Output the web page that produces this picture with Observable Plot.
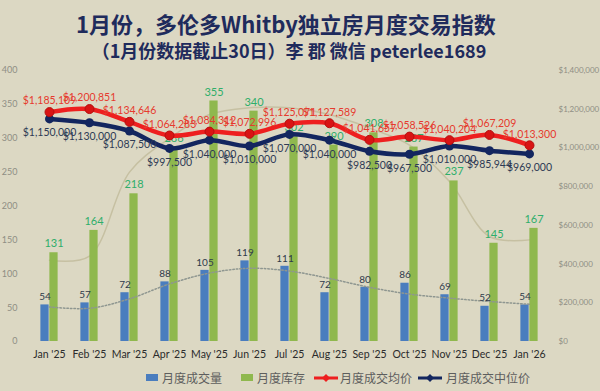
<!DOCTYPE html>
<html>
<head>
<meta charset="utf-8">
<script src="https://cdn.jsdelivr.net/npm/d3@7"></script>
<script src="https://cdn.jsdelivr.net/npm/@observablehq/plot@0.6"></script>
<style>
  html, body { margin: 0; padding: 0; background: #dcd8c3; }
  #wrap { position: relative; width: 600px; height: 391px; background: #dcd8c3; overflow: hidden; }
  .title { position: absolute; left: 0; width: 572px; text-align: center; font-family: "Noto Sans CJK SC", sans-serif; font-weight: bold; color: #1f2b5c; white-space: nowrap; }
  #chart { position: absolute; left: 0; top: 0; }
  .leg { position: absolute; top: 369px; font-family: "Noto Sans CJK SC", sans-serif; font-size: 12px; color: #5e5e5e; display: flex; align-items: center; white-space: nowrap; }
  .sw { display: inline-block; width: 12px; height: 7px; margin-right: 4px; }
</style>
</head>
<body>
<div id="wrap">
  <div class="title" style="top:7px;font-size:22px;">1月份，多伦多Whitby独立房月度交易指数</div>
  <div class="title" style="top:37px;font-size:18px;width:578px;">（1月份数据截止30日）李 郡 微信 peterlee1689</div>
  <div id="chart"></div>
  <div class="leg" style="left:146px;"><span class="sw" style="background:#4a7dbe"></span>月度成交量</div>
  <div class="leg" style="left:241px;"><span class="sw" style="background:#8fb84e"></span>月度库存</div>
  <div class="leg" style="left:314px;"><svg width="24" height="10" style="margin-right:2px"><line x1="0" y1="5" x2="24" y2="5" stroke="#ee1f1f" stroke-width="3"/><path d="M12 1 L16 5 L12 9 L8 5 Z" fill="#ee1f1f"/></svg>月度成交均价</div>
  <div class="leg" style="left:418px;"><svg width="24" height="10" style="margin-right:4px"><line x1="0" y1="5" x2="24" y2="5" stroke="#13265f" stroke-width="3"/><path d="M12 1 L16 5 L12 9 L8 5 Z" fill="#13265f"/></svg>月度成交中位价</div>
</div>
<script>
const months = ["Jan '25","Feb '25","Mar '25","Apr '25","May '25","Jun '25","Jul '25","Aug '25","Sep '25","Oct '25","Nov '25","Dec '25","Jan '26"];
const sales = [54, 57, 72, 88, 105, 119, 111, 72, 80, 86, 69, 52, 54];
const inventory = [131, 164, 218, 286, 355, 340, 302, 290, 308, 287, 237, 145, 167];
const avgPrice = [1185109, 1200851, 1134646, 1064283, 1084312, 1072996, 1125071, 1127589, 1041657, 1058526, 1040204, 1067209, 1013300];
const medianPrice = [1150000, 1130000, 1087500, 997500, 1040000, 1010000, 1070000, 1040000, 982500, 967500, 1010000, 985944, 969000];
// trend lines
const salesTrend = [51, 49, 63, 85, 101, 108, 104, 93, 80, 70, 64, 59, 55];
const inventoryTrend = [120, 126, 250, 300, 335, 345, 345, 335, 315, 290, 236, 155, 150];
const leftTicks = [0, 50, 100, 150, 200, 250, 300, 350, 400];
const rightTicks = [0, 200000, 400000, 600000, 800000, 1000000, 1200000, 1400000];
const leftMax = 400, rightMax = 1400000;
const ratio = rightMax / leftMax;

const table = months.map((m, i) => ({
  month: m, sales: sales[i], inv: inventory[i], avg: avgPrice[i], med: medianPrice[i],
  st: salesTrend[i], it: inventoryTrend[i]
}));

const W = 600, H = 391, ML = 24, MR = 46, MT = 70, MB = 50;
const bw = (W - ML - MR) / months.length;
const barW = 9;
const money = d3.format("$,");

const chart = Plot.plot({
  width: W, height: H,
  marginLeft: ML, marginRight: MR, marginTop: MT, marginBottom: MB,
  style: { background: "transparent", fontFamily: "Lato, sans-serif", overflow: "visible" },
  x: { domain: months, padding: 0, label: null },
  y: { domain: [0, leftMax], label: null },
  marks: [
    Plot.axisY({ ticks: leftTicks, tickSize: 0, tickPadding: 7, fontSize: 9, color: "#8f8e84", label: null }),
    Plot.axisY({ anchor: "right", ticks: rightTicks.map(v => v / ratio), tickFormat: v => money(Math.round(v * ratio)),
      tickSize: 0, tickPadding: 4, fontSize: 8, color: "#8f8e84", label: null }),
    Plot.axisX({ tickSize: 0, tickPadding: 9, fontSize: 10.5, color: "#2b2b2b", label: null }),
    Plot.line(table, { x: "month", y: "it", stroke: "#c6c0a2", strokeWidth: 1.5, curve: "catmull-rom" }),
    Plot.barY(table, { x: "month", y: "sales", fill: "#4a7dbe", insetLeft: bw / 2 - barW, insetRight: bw / 2 }),
    Plot.barY(table, { x: "month", y: "inv", fill: "#8fb84e", insetLeft: bw / 2, insetRight: bw / 2 - barW }),
    Plot.line(table, { x: "month", y: "st", stroke: "#8e9690", strokeWidth: 1.5, strokeDasharray: "1.5,2", curve: "catmull-rom" }),
    Plot.text(table, { x: "month", y: "sales", text: "sales", dx: -barW / 2, dy: -8, fill: "#2f3a4a", fontSize: 10 }),
    Plot.text(table, { x: "month", y: "inv", text: "inv", dx: barW / 2, dy: -9, fill: "#2fae6a", fontSize: 11 }),
    Plot.line(table, { x: "month", y: d => d.med / ratio, stroke: "#13265f", strokeWidth: 4.5, curve: "catmull-rom" }),
    Plot.dot(table, { x: "month", y: d => d.med / ratio, r: 4.5, fill: "#13265f" }),
    Plot.line(table, { x: "month", y: d => d.avg / ratio, stroke: "#ee1f1f", strokeWidth: 4.5, curve: "catmull-rom" }),
    Plot.dot(table, { x: "month", y: d => d.avg / ratio, r: 4.5, fill: "#d81414", stroke: "#b50f0f", strokeWidth: 1 }),
    Plot.text(table, { x: "month", y: d => d.avg / ratio, text: d => money(d.avg), dy: -11, fill: "#e63a2e", fontSize: 10.5 }),
    Plot.text(table, { x: "month", y: d => d.med / ratio, text: d => money(d.med), dy: 14, fill: "#2e3b55", fontSize: 10.5 })
  ]
});
document.getElementById("chart").appendChild(chart);
</script>
</body>
</html>
